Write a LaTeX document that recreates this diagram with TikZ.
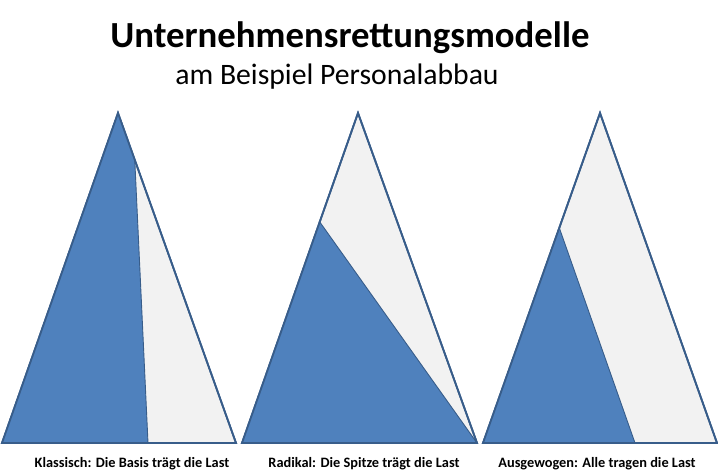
\documentclass[tikz,border=0pt]{standalone}
\usepackage{fontspec}
\setmainfont{Carlito}
\usetikzlibrary{calc}

\definecolor{lastblue}{HTML}{4F81BD}
\definecolor{lastline}{HTML}{385D8A}
\definecolor{lastgrey}{HTML}{F2F2F2}

\tikzstyle{pyramid} = [draw=lastline, fill=lastgrey, line width=1.8bp,
  line join=miter]
\tikzstyle{share} = [fill=lastblue]
\tikzstyle{split} = [draw=lastline, line width=0.9bp]
\tikzstyle{caption} = [anchor=base, inner sep=0pt, font=\bfseries\fontsize{14.4}{16}\selectfont]

\begin{document}
\begin{tikzpicture}[x=1bp,y=-1bp]
        \useasboundingbox (0,0) rectangle (718,475);
        \node [anchor=base, inner sep=0pt, font=\bfseries\fontsize{36.9}{42}\selectfont]
              (title)    at (350,48) {Unternehmensrettungsmodelle};
        \node [anchor=base, inner sep=0pt, font=\fontsize{29.8}{34}\selectfont]
              (subtitle) at (337,85) {am Beispiel Personalabbau};

        % Klassisch
        \coordinate (apexA)  at (118,113);
        \coordinate (leftA)  at (2,443);
        \coordinate (rightA) at (236,443);
        \coordinate (cutA)   at ($(apexA)!0.142!(rightA)$);
        \coordinate (footA)  at (148,443);
        \fill [pyramid] (apexA) -- (leftA) -- (rightA) -- cycle;
        \fill [share] (apexA) -- (leftA) -- (footA) -- (cutA) -- cycle;
        \draw [split] (cutA) -- (footA);
        \draw [pyramid, fill=none] (apexA) -- (leftA) -- (rightA) -- cycle;

        % Radikal
        \coordinate (apexB)  at (358,113);
        \coordinate (leftB)  at (242,443);
        \coordinate (rightB) at (477,443);
        \coordinate (cutB)   at ($(apexB)!0.33!(leftB)$);
        \fill [pyramid] (apexB) -- (leftB) -- (rightB) -- cycle;
        \fill [share] (cutB) -- (leftB) -- (rightB) -- cycle;
        \draw [split] (cutB) -- (rightB);
        \draw [pyramid, fill=none] (apexB) -- (leftB) -- (rightB) -- cycle;

        % Ausgewogen
        \coordinate (apexC)  at (600,113);
        \coordinate (leftC)  at (483,443);
        \coordinate (rightC) at (717,443);
        \coordinate (cutC)   at ($(apexC)!0.348!(leftC)$);
        \coordinate (footC)  at (635,443);
        \fill [pyramid] (apexC) -- (leftC) -- (rightC) -- cycle;
        \fill [share] (cutC) -- (leftC) -- (footC) -- cycle;
        \draw [split] (cutC) -- (footC);
        \draw [pyramid, fill=none] (apexC) -- (leftC) -- (rightC) -- cycle;

        \node [caption] (capA) at (132,467) {Klassisch: Die Basis trägt die Last};
        \node [caption] (capB) at (364,467) {Radikal: Die Spitze trägt die Last};
        \node [caption] (capC) at (597,467) {Ausgewogen: Alle tragen die Last};
      \end{tikzpicture}
\end{document}
